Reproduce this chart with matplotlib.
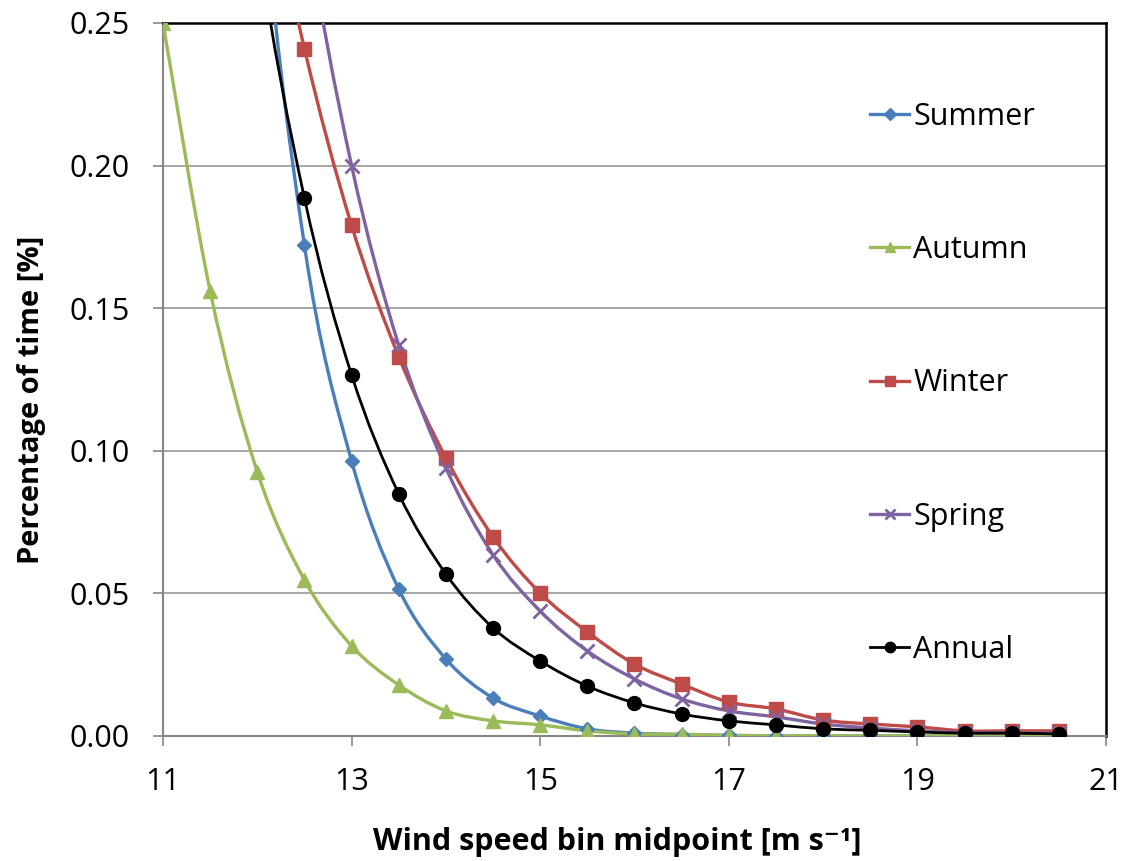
import matplotlib
matplotlib.use("Agg")
import matplotlib.pyplot as plt
from matplotlib.path import Path
from matplotlib.patches import PathPatch
from matplotlib.lines import Line2D
import numpy as np

plt.rcParams['font.family'] = ['Open Sans', 'DejaVu Sans']

wind_speed = [11.0, 11.5, 12.0, 12.5, 13.0, 13.5, 14.0, 14.5, 15.0, 15.5,
              16.0, 16.5, 17.0, 17.5, 18.0, 18.5, 19.0, 19.5, 20.0, 20.5]

summer = [1.10, 0.60, 0.32, 0.172, 0.0964, 0.0515, 0.027, 0.0133, 0.007, 0.0025,
          0.0010, 0.0005, 0.0002, 0.0001, 0.0001, 0.0, 0.0, 0.0, 0.0, 0.0]
autumn = [0.250, 0.156, 0.0926, 0.0547, 0.0316, 0.0179, 0.0088, 0.0053, 0.0039, 0.0018,
          0.0007, 0.0006, 0.0002, 0.0001, 0.0001, 0.0, 0.0, 0.0, 0.0, 0.0]
winter = [0.55, 0.42, 0.32, 0.241, 0.179, 0.133, 0.0975, 0.0698, 0.0501, 0.0365,
          0.0252, 0.0182, 0.0119, 0.0095, 0.0056, 0.0042, 0.0032, 0.0018, 0.0018, 0.0018]
spring = [0.85, 0.60, 0.42, 0.29, 0.200, 0.137, 0.094, 0.0635, 0.0438, 0.0298,
          0.0200, 0.0130, 0.0088, 0.0067, 0.0042, 0.0028, 0.0018, 0.0012, 0.0010, 0.0010]
annual = [0.62, 0.42, 0.28, 0.1886, 0.1266, 0.0849, 0.0568, 0.0379, 0.0263, 0.0175,
          0.0116, 0.0077, 0.0053, 0.0039, 0.0025, 0.0020, 0.0014, 0.0010, 0.0010, 0.0007]

series_names = ['Summer', 'Autumn', 'Winter', 'Spring', 'Annual']
series_values = [summer, autumn, winter, spring, annual]
colors = ['#4A7EBB', '#9BBB59', '#BE4B48', '#7F63A1', '#000000']
markers = ['D', '^', 's', 'x', 'o']
msizes = [7.5, 10, 9.5, 10, 10]
lwidths = [2.4, 2.4, 2.4, 2.4, 2.0]

x_ticks = [11, 13, 15, 17, 19, 21]
y_ticks = [0.00, 0.05, 0.10, 0.15, 0.20, 0.25]


def smooth_path(xs, ys):
    xs = np.asarray(xs, float)
    ys = np.asarray(ys, float)
    n = len(xs)
    verts = [(xs[0], ys[0])]
    codes = [Path.MOVETO]
    for i in range(n - 1):
        i0 = max(i - 1, 0)
        i3 = min(i + 2, n - 1)
        c1 = (xs[i] + (xs[i + 1] - xs[i0]) / 6.0, ys[i] + (ys[i + 1] - ys[i0]) / 6.0)
        c2 = (xs[i + 1] - (xs[i3] - xs[i]) / 6.0, ys[i + 1] - (ys[i3] - ys[i]) / 6.0)
        verts += [c1, c2, (xs[i + 1], ys[i + 1])]
        codes += [Path.CURVE4] * 3
    return Path(verts, codes)


fig = plt.figure(figsize=(11.28, 8.61), dpi=100)
ax = fig.add_axes([0.1445, 0.1452, 0.8360, 0.8281])

handles = []
for name, vals, c, m, ms, lw in zip(series_names, series_values, colors, markers, msizes, lwidths):
    patch = PathPatch(smooth_path(wind_speed, vals), fill=False, edgecolor=c, lw=lw,
                      transform=ax.transData, zorder=3)
    ax.add_patch(patch)
    mew = 2.0 if m == 'x' else 1
    ax.plot(wind_speed, vals, linestyle='none', marker=m, markersize=ms,
            color=c, markeredgewidth=mew, zorder=4, clip_on=True)
    handles.append(Line2D([], [], color=c, lw=lw, marker=m,
                          markersize=ms * 0.75, markeredgewidth=mew))

ax.set_xlim(11, 21)
ax.set_ylim(0, 0.25)
ax.set_xticks(x_ticks)
ax.set_yticks(y_ticks)
ax.set_xticklabels([str(t) for t in x_ticks])
ax.set_yticklabels(['%.2f' % t for t in y_ticks])
ax.tick_params(axis='both', labelsize=22, colors='#868686', labelcolor='black',
               length=7, width=1.2, direction='out')
ax.tick_params(axis='x', pad=15)
ax.tick_params(axis='y', pad=17)
ax.grid(axis='y', color='#A0A0A0', lw=1.3)
ax.set_axisbelow(True)

for side in ['left', 'bottom']:
    ax.spines[side].set_color('#868686')
    ax.spines[side].set_linewidth(1.5)
for side in ['top', 'right']:
    ax.spines[side].set_color('black')
    ax.spines[side].set_linewidth(1.8)

ax.set_xlabel('Wind speed bin midpoint [m s\u207b\u00b9]', fontsize=22, fontweight='bold')
ax.set_ylabel('Percentage of time [%]', fontsize=21, fontweight='bold')
ax.xaxis.set_label_coords(0.4814, -0.128)
ax.yaxis.set_label_coords(-0.124, 0.471)

leg = ax.legend(handles, series_names, loc='upper left', bbox_to_anchor=(0.7365, 0.9066),
                frameon=False, fontsize=22, labelspacing=3.38, handlelength=1.3,
                handletextpad=0.12, borderaxespad=0)

fig.savefig('out.png', dpi=100, facecolor='white')
